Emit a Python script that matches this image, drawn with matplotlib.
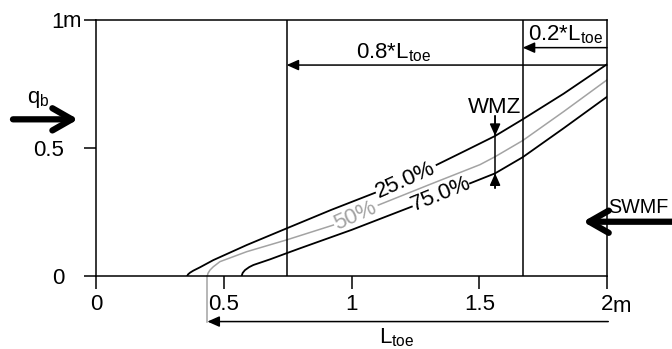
import matplotlib
matplotlib.use('Agg')
import matplotlib.pyplot as plt
import numpy as np

plt.rcParams['font.family'] = ['Liberation Sans', 'DejaVu Sans']
plt.rcParams['mathtext.fontset'] = 'custom'
plt.rcParams['mathtext.rm'] = 'Liberation Sans'
plt.rcParams['mathtext.it'] = 'Liberation Sans'

# isolines (x in m, y in m)
x25 = [0.357, 0.360, 0.368, 0.381, 0.407, 0.459, 0.590, 0.746, 0.920, 1.092, 1.333, 1.451, 1.562, 1.670, 1.830, 2.000]
y25 = [0.000, 0.006, 0.013, 0.021, 0.034, 0.062, 0.121, 0.186, 0.258, 0.325, 0.434, 0.492, 0.547, 0.612, 0.712, 0.827]

x50 = [0.436, 0.438, 0.446, 0.459, 0.485, 0.590, 0.746, 0.929, 1.105, 1.300, 1.503, 1.562, 1.670, 1.830, 2.000]
y50 = [0.000, 0.010, 0.023, 0.036, 0.056, 0.095, 0.141, 0.199, 0.277, 0.355, 0.435, 0.466, 0.529, 0.642, 0.766]

x75 = [0.570, 0.574, 0.583, 0.600, 0.616, 0.681, 0.746, 0.798, 1.000, 1.236, 1.464, 1.562, 1.670, 1.830, 2.000]
y75 = [0.000, 0.012, 0.023, 0.035, 0.043, 0.065, 0.089, 0.108, 0.180, 0.271, 0.362, 0.401, 0.464, 0.577, 0.700]

x_08 = 0.746   # 2 - 0.8*Ltoe
x_02 = 1.670   # 2 - 0.2*Ltoe
x_wmz = 1.562
x_ticks = [0, 0.5, 1, 1.5, 2]
x_ticklabels = ['0', '0.5', '1', '1.5', '2']
y_ticks = [0, 0.5, 1]
y_ticklabels = ['0', '0.5', '1']

GRAY = '#a3a3a3'
FS = 16

fig = plt.figure(figsize=(6.72, 3.49), dpi=100)
ax = fig.add_axes([96 / 672, 73 / 349, 511 / 672, 256 / 349])
ax.set_xlim(0, 2)
ax.set_ylim(0, 1)
for s in ax.spines.values():
    s.set_linewidth(1.1)
ax.set_xticks(x_ticks)
ax.set_xticklabels(x_ticklabels)
ax.set_yticks(y_ticks)
ax.set_yticklabels(y_ticklabels)
ax.tick_params(direction='out', length=9, width=1.1, labelsize=FS)
ax.tick_params(axis='x', pad=4)
ax.tick_params(axis='y', pad=14)
ax.text(2.023, -0.139, 'm', fontsize=FS, ha='left', va='baseline', clip_on=False)
ax.text(-0.129, 0.971, 'm', fontsize=FS, ha='left', va='baseline', clip_on=False)


def draw(x, y, gap, **kw):
    x = np.array(x)
    y = np.array(y)
    left = x <= gap[0]
    right = x >= gap[1]
    ax.plot(x[left], y[left], **kw)
    ax.plot(x[right], y[right], **kw)


draw(x25, y25, (1.092, 1.333), color='black', lw=1.3)
draw(x50, y50, (0.929, 1.105), color=GRAY, lw=1.1)
draw(x75, y75, (1.236, 1.464), color='black', lw=1.3)

ax.text(1.212, 0.374, '25.0%', fontsize=FS, rotation=24, ha='center', va='center', rotation_mode='anchor')
ax.text(1.016, 0.236, '50%', fontsize=FS, rotation=24, ha='center', va='center', rotation_mode='anchor', color=GRAY)
ax.text(1.349, 0.318, '75.0%', fontsize=FS, rotation=22, ha='center', va='center', rotation_mode='anchor')

# zone boundaries
ax.axvline(x_08, color='black', lw=1.1)
ax.axvline(x_02, color='black', lw=1.1)

thin = dict(arrowstyle='-|>,head_length=0.72,head_width=0.32', color='black', lw=1.1,
            mutation_scale=10, shrinkA=0, shrinkB=0)
ax.annotate('', xy=(x_08, 0.824), xytext=(2.0, 0.824), arrowprops=thin, annotation_clip=False)
ax.annotate('', xy=(x_02, 0.892), xytext=(2.0, 0.892), arrowprops=thin, annotation_clip=False)
ax.text(1.166, 0.850, r'0.8*L$_\mathrm{toe}$', fontsize=FS, ha='center', va='baseline')
ax.text(1.838, 0.922, r'0.2*L$_\mathrm{toe}$', fontsize=FS, ha='center', va='baseline')

# WMZ marker
y_top = y25[x25.index(x_wmz)]
y_bot = y75[x75.index(x_wmz)]
ax.plot([x_wmz, x_wmz], [0.625, 0.344], color='black', lw=1.1)
ax.annotate('', xy=(x_wmz, y_top), xytext=(x_wmz, 0.625), arrowprops=thin)
ax.annotate('', xy=(x_wmz, y_bot), xytext=(x_wmz, 0.344), arrowprops=thin)
ax.text(x_wmz, 0.638, 'WMZ', fontsize=FS, ha='center', va='baseline')

# Ltoe below the axis
x_toe = x50[0]
ax.plot([x_toe, x_toe], [0, -0.178], color=GRAY, lw=1.1, clip_on=False)
ax.annotate('', xy=(x_toe, -0.178), xytext=(2.005, -0.178), arrowprops=thin, annotation_clip=False)
ax.text(1.178, -0.263, r'L$_\mathrm{toe}$', fontsize=FS, ha='center', va='baseline', clip_on=False)

# thick flux arrows
thick = dict(arrowstyle='->,head_length=0.7,head_width=0.4', color='black', lw=4.5,
             mutation_scale=20, shrinkA=0, shrinkB=0, capstyle='round', joinstyle='round')
ax.annotate('', xy=(-0.070, 0.612), xytext=(-0.325, 0.612), arrowprops=thick, annotation_clip=False)
ax.text(-0.270, 0.675, r'q$_\mathrm{b}$', fontsize=FS, ha='left', va='baseline', clip_on=False)
ax.annotate('', xy=(1.906, 0.212), xytext=(2.30, 0.212), arrowprops=thick, annotation_clip=False)
ax.text(2.005, 0.245, 'SWMF', fontsize=14.2, ha='left', va='baseline', clip_on=False)

fig.savefig('out.png', dpi=100)
